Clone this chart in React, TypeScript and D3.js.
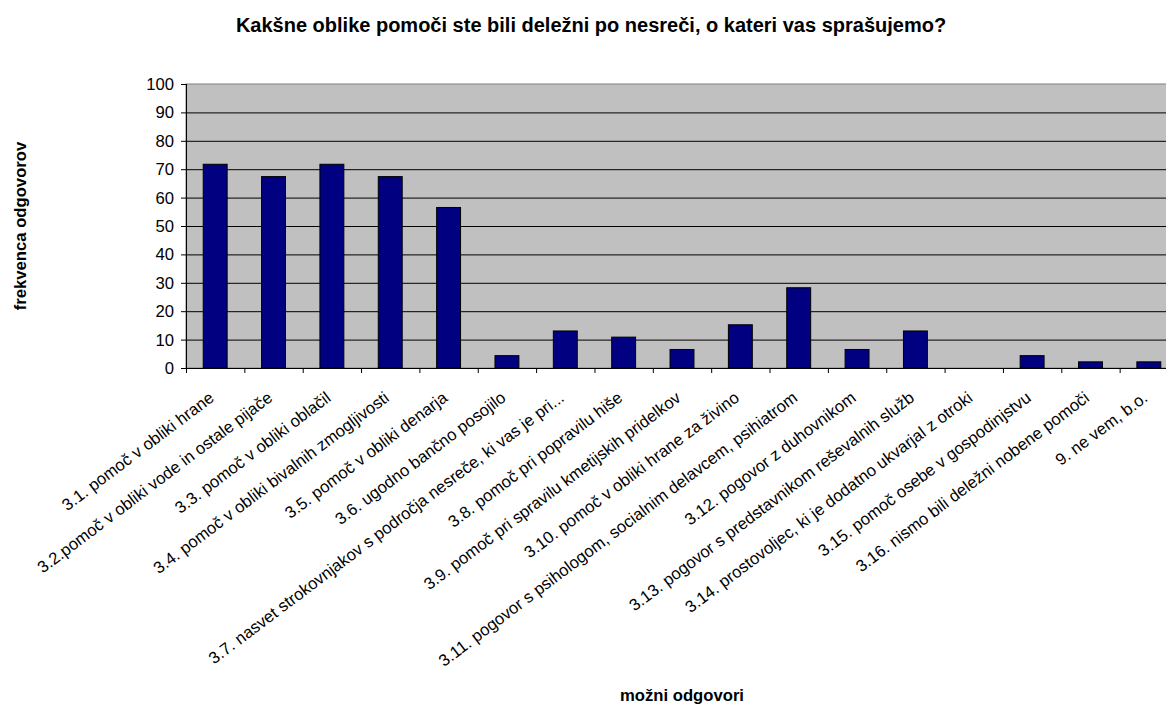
import React from "react";
import * as d3 from "d3";

const title = "Kakšne oblike pomoči ste bili deležni po nesreči, o kateri vas sprašujemo?";
const yTitle = "frekvenca odgovorov";
const xTitle = "možni odgovori";

const categories = [
  "3.1. pomoč v obliki hrane",
  "3.2.pomoč v obliki vode in ostale pijače",
  "3.3. pomoč v obliki oblačil",
  "3.4. pomoč v obliki bivalnih zmogljivosti",
  "3.5. pomoč v obliki denarja",
  "3.6. ugodno bančno posojilo",
  "3.7. nasvet strokovnjakov s področja nesreče, ki vas je pri...",
  "3.8. pomoč pri popravilu hiše",
  "3.9. pomoč pri spravilu kmetijskih pridelkov",
  "3.10. pomoč v obliki hrane za živino",
  "3.11. pogovor s psihologom, socialnim delavcem, psihiatrom",
  "3.12. pogovor z duhovnikom",
  "3.13. pogovor s predstavnikom reševalnih služb",
  "3.14. prostovoljec, ki je dodatno ukvarjal z otroki",
  "3.15. pomoč osebe v gospodinjstvu",
  "3.16. nismo bili deležni nobene pomoči",
  "9. ne vem, b.o.",
];

const values = [
  71.74, 67.39, 71.74, 67.39, 56.52, 4.35, 13.04, 10.87, 6.52, 15.22, 28.26, 6.52,
  13.04, 0, 4.35, 2.17, 2.17,
];

const yTicks = [0, 10, 20, 30, 40, 50, 60, 70, 80, 90, 100];

const W = 1166;
const H = 704;
const plot = { left: 186, top: 84, right: 1178, bottom: 368 };
const FONT = "'Liberation Sans', Arial, sans-serif";
const FS = 16.67;

export default function App() {
  const x = d3
    .scaleBand<string>()
    .domain(categories)
    .range([plot.left, plot.right])
    .paddingInner(0)
    .paddingOuter(0);
  const y = d3.scaleLinear().domain([0, 100]).range([plot.bottom, plot.top]);
  const barW = x.bandwidth() * 0.41;
  const bounds = d3.range(categories.length + 1).map((i) => plot.left + i * x.step());

  return (
    <svg
      width={W}
      height={H}
      style={{ position: "absolute", left: 0, top: 0, background: "#fff" }}
      fontFamily={FONT}
    >
      <rect x={0} y={0} width={W} height={H} fill="#fff" />
      <text x={591} y={32} textAnchor="middle" fontWeight="bold" fontSize={20}>
        {title}
      </text>
      <rect
        x={plot.left}
        y={plot.top}
        width={plot.right - plot.left}
        height={plot.bottom - plot.top}
        fill="#c0c0c0"
        stroke="#808080"
        strokeWidth={1}
      />
      {yTicks.map((t) => (
        <g key={t}>
          {t > 0 && t < 100 && (
            <line x1={plot.left} x2={plot.right} y1={y(t) + 0.5} y2={y(t) + 0.5} stroke="#000" strokeWidth={1} />
          )}
          <line x1={plot.left - 5} x2={plot.left} y1={y(t) + 0.5} y2={y(t) + 0.5} stroke="#000" />
          <text x={plot.left - 12} y={y(t)} dy="0.36em" textAnchor="end" fontSize={FS}>
            {t}
          </text>
        </g>
      ))}
      {categories.map((c, i) => (
        <rect
          key={c}
          x={(x(c) as number) + (x.bandwidth() - barW) / 2}
          y={y(values[i])}
          width={barW}
          height={plot.bottom - y(values[i])}
          fill="#000080"
          stroke="#000"
          strokeWidth={1}
        />
      ))}
      <line x1={plot.left + 0.5} x2={plot.left + 0.5} y1={plot.top} y2={plot.bottom} stroke="#000" />
      <line x1={plot.left} x2={plot.right} y1={plot.bottom + 0.5} y2={plot.bottom + 0.5} stroke="#000" />
      {bounds.map((bx, i) => (
        <line key={i} x1={bx + 0.5} x2={bx + 0.5} y1={plot.bottom} y2={plot.bottom + 5} stroke="#000" />
      ))}
      {categories.map((c) => {
        const cx = (x(c) as number) + x.bandwidth() / 2;
        return (
          <text
            key={c}
            transform={`translate(${cx},${plot.bottom + 32}) rotate(-37)`}
            textAnchor="end"
            fontSize={FS}
          >
            {c}
          </text>
        );
      })}
      <text
        transform={`translate(26,${(plot.top + plot.bottom) / 2}) rotate(-90)`}
        textAnchor="middle"
        fontWeight="bold"
        fontSize={FS}
      >
        {yTitle}
      </text>
      <text x={(plot.left + plot.right) / 2} y={701} textAnchor="middle" fontWeight="bold" fontSize={FS}>
        {xTitle}
      </text>
    </svg>
  );
}
